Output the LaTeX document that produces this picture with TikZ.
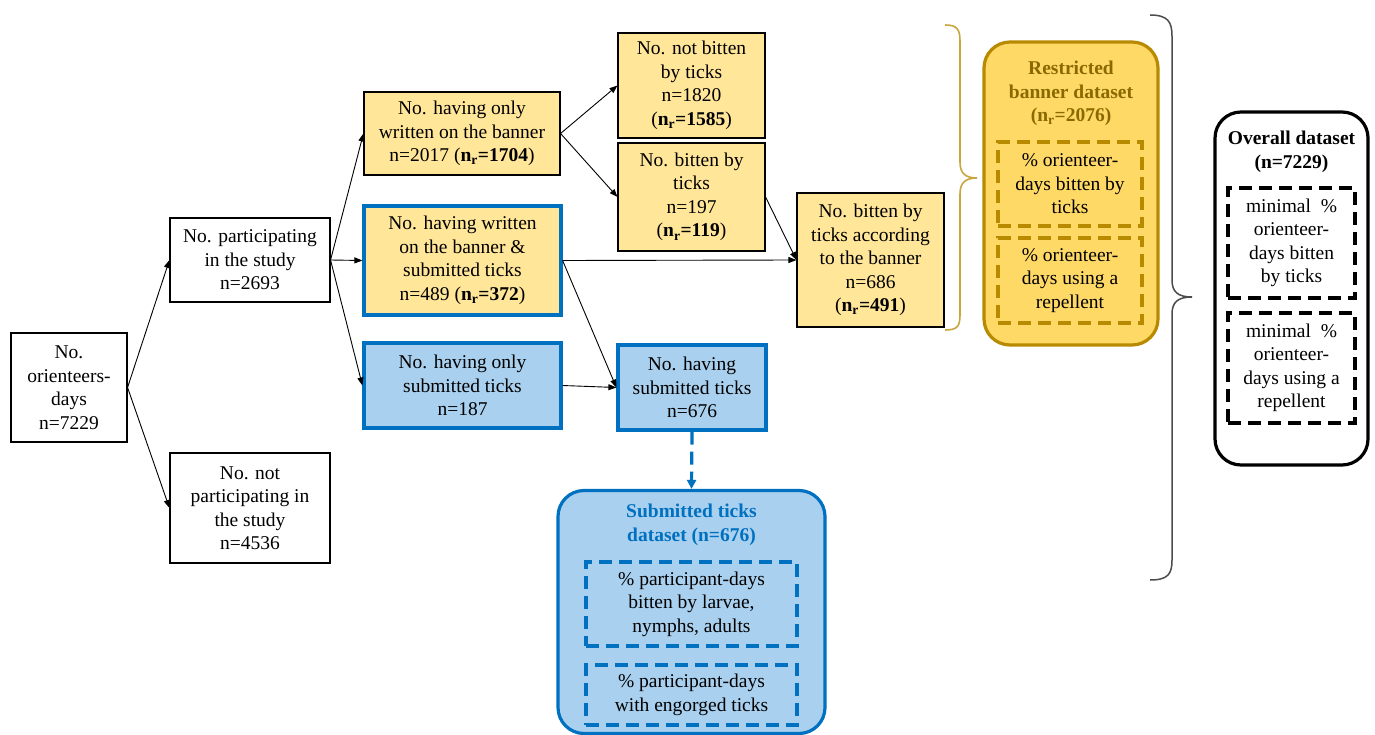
\documentclass[tikz,border=0pt]{standalone}
\usepackage{fontspec}
\setmainfont{Liberation Serif}
\usetikzlibrary{arrows.meta}
\definecolor{ylw}{HTML}{FFE699}
\definecolor{ylwd}{HTML}{FFD966}
\definecolor{gold}{HTML}{B78A00}
\definecolor{goldtxt}{HTML}{8A6A00}
\definecolor{bluf}{HTML}{A9D0EE}
\definecolor{blub}{HTML}{0070C0}
\newcommand{\nr}[1]{\textbf{n\textsubscript{r}=#1}}
\tikzset{
  base/.style={rectangle, align=center, inner sep=0pt, font=\fontsize{19.5}{23.5}\selectfont},
  wbox/.style={base, draw=black, line width=1.1pt, fill=white},
  ybox/.style={base, draw=black, line width=1.1pt, fill=ylw},
  ybbox/.style={base, draw=blub, line width=3.2pt, fill=ylw},
  bbox/.style={base, draw=blub, line width=3.2pt, fill=bluf},
  dset/.style={base, rounded corners=26pt, line width=3.2pt},
  dbox/.style={base, dash pattern=on 13pt off 7pt, line width=3.2pt},
  conn/.style={draw=black, line width=0.9pt, -{Triangle[length=8pt,width=6pt]}},
}
\begin{document}
\begin{tikzpicture}[x=1pt,y=-1pt]
\useasboundingbox[fill=white] (0,0) rectangle (1375,735);
% left tree
\node[wbox, minimum width=116pt, minimum height=109pt] (orient) at (69,387.5) {No.\\orienteers-\\days\\n=7229};
\node[wbox, minimum width=160pt, minimum height=84pt] (part) at (250,260) {No. participating\\in the study\\n=2693};
\node[wbox, minimum width=160pt, minimum height=110pt] (notpart) at (250,508) {No. not\\participating in\\the study\\n=4536};
\node[ybox, minimum width=196pt, minimum height=83pt] (bonly) at (462,133.5) {No. having only\\written on the banner\\n=2017 (\nr{1704})};
\node[ybbox, minimum width=197pt, minimum height=109pt] (both) at (462.5,260.5) {No. having written\\on the banner \&\\submitted ticks\\n=489 (\nr{372})};
\node[bbox, minimum width=197pt, minimum height=85pt] (sonly) at (462.5,385.5) {No. having only\\submitted ticks\\n=187};
\node[ybox, minimum width=147pt, minimum height=105pt] (notbit) at (691.5,85.5) {No. not bitten\\by ticks\\n=1820\\(\nr{1585})};
\node[ybox, minimum width=147pt, minimum height=108pt] (bit) at (691.5,197) {No. bitten by\\ticks\\n=197\\(\nr{119})};
\node[bbox, minimum width=148pt, minimum height=85pt] (subm) at (692,387.5) {No. having\\submitted ticks\\n=676};
\node[ybox, minimum width=147pt, minimum height=134pt] (accord) at (870.5,260) {No. bitten by\\ticks according\\to the banner\\n=686\\(\nr{491})};
% restricted banner dataset
\node[dset, draw=gold, fill=ylwd, minimum width=174pt, minimum height=303pt] (restr) at (1071,193.5) {};
\node[base, text=goldtxt, font=\fontsize{19.5}{23.5}\selectfont\bfseries] (restrt) at (1071,93.5) {Restricted\\banner dataset\\(n\textsubscript{r}=2076)};
\node[dbox, draw=gold, minimum width=144pt, minimum height=84pt] (r1) at (1070,184) {\% orienteer-\\days bitten by\\ticks};
\node[dbox, draw=gold, minimum width=144pt, minimum height=85pt] (r2) at (1070,280.5) {\% orienteer-\\days using a\\repellent};
% overall dataset
\node[dset, draw=black, fill=white, minimum width=153pt, minimum height=353pt] (overall) at (1291.5,288.5) {};
\node[base, font=\fontsize{19.5}{23.5}\selectfont\bfseries] (overallt) at (1291.5,152) {Overall dataset\\(n=7229)};
\node[dbox, draw=black, minimum width=127pt, minimum height=110pt] (o1) at (1291.5,243) {minimal~~\%\\orienteer-\\days bitten\\by ticks};
\node[dbox, draw=black, minimum width=127pt, minimum height=110pt] (o2) at (1291.5,368) {minimal~~\%\\orienteer-\\days using a\\repellent};
% submitted ticks dataset
\node[dset, draw=blub, fill=bluf, minimum width=267pt, minimum height=243pt] (stds) at (691.5,612) {};
\node[base, text=blub, font=\fontsize{19.5}{23.5}\selectfont\bfseries] (stdst) at (691.5,525) {Submitted ticks\\dataset (n=676)};
\node[dbox, draw=blub, minimum width=211pt, minimum height=84pt] (s1) at (691.5,604) {\% participant-days\\bitten by larvae,\\nymphs, adults};
\node[dbox, draw=blub, minimum width=211pt, minimum height=60pt] (s2) at (691.5,695) {\% participant-days\\with engorged ticks};
% braces
\coordinate (gb1) at (945,25);
\coordinate (gb2) at (945,330);
\coordinate (gtip) at (977,178);
\draw[draw=gold!75, line width=1.6pt] (gb1) .. controls (958,25) and (960,30) .. (960,42) -- (960,162) .. controls (960,173) and (965,178) .. (gtip) .. controls (965,178) and (960,183) .. (960,194) -- (960,314) .. controls (960,326) and (958,330) .. (gb2);
\coordinate (kb1) at (1150,15);
\coordinate (kb2) at (1150,580);
\coordinate (ktip) at (1192,297);
\draw[draw=black!70, line width=1.5pt] (kb1) .. controls (1168,15) and (1172,22) .. (1172,36) -- (1172,280) .. controls (1172,292) and (1178,297) .. (ktip) .. controls (1178,297) and (1172,302) .. (1172,314) -- (1172,560) .. controls (1172,574) and (1168,580) .. (kb2);
% connectors
\draw[conn] (orient.east) -- (part.west);
\draw[conn] (orient.east) -- (notpart.west);
\draw[conn] (part.east) -- (bonly.west);
\draw[conn] (part.east) -- (both.west);
\draw[conn] (part.east) -- (sonly.west);
\draw[conn] (bonly.east) -- (notbit.west);
\draw[conn] (bonly.east) -- (bit.west);
\draw[conn] (bit.east) -- (accord.west);
\draw[conn] (both.east) -- (accord.west);
\draw[conn] (both.east) -- (subm.west);
\draw[conn] (sonly.east) -- (subm.west);
\draw[draw=blub, line width=3.2pt, dash pattern=on 13pt off 7pt, -{Triangle[length=9pt,width=9pt]}] (subm.south) -- (stds.north);
\end{tikzpicture}
\end{document}
